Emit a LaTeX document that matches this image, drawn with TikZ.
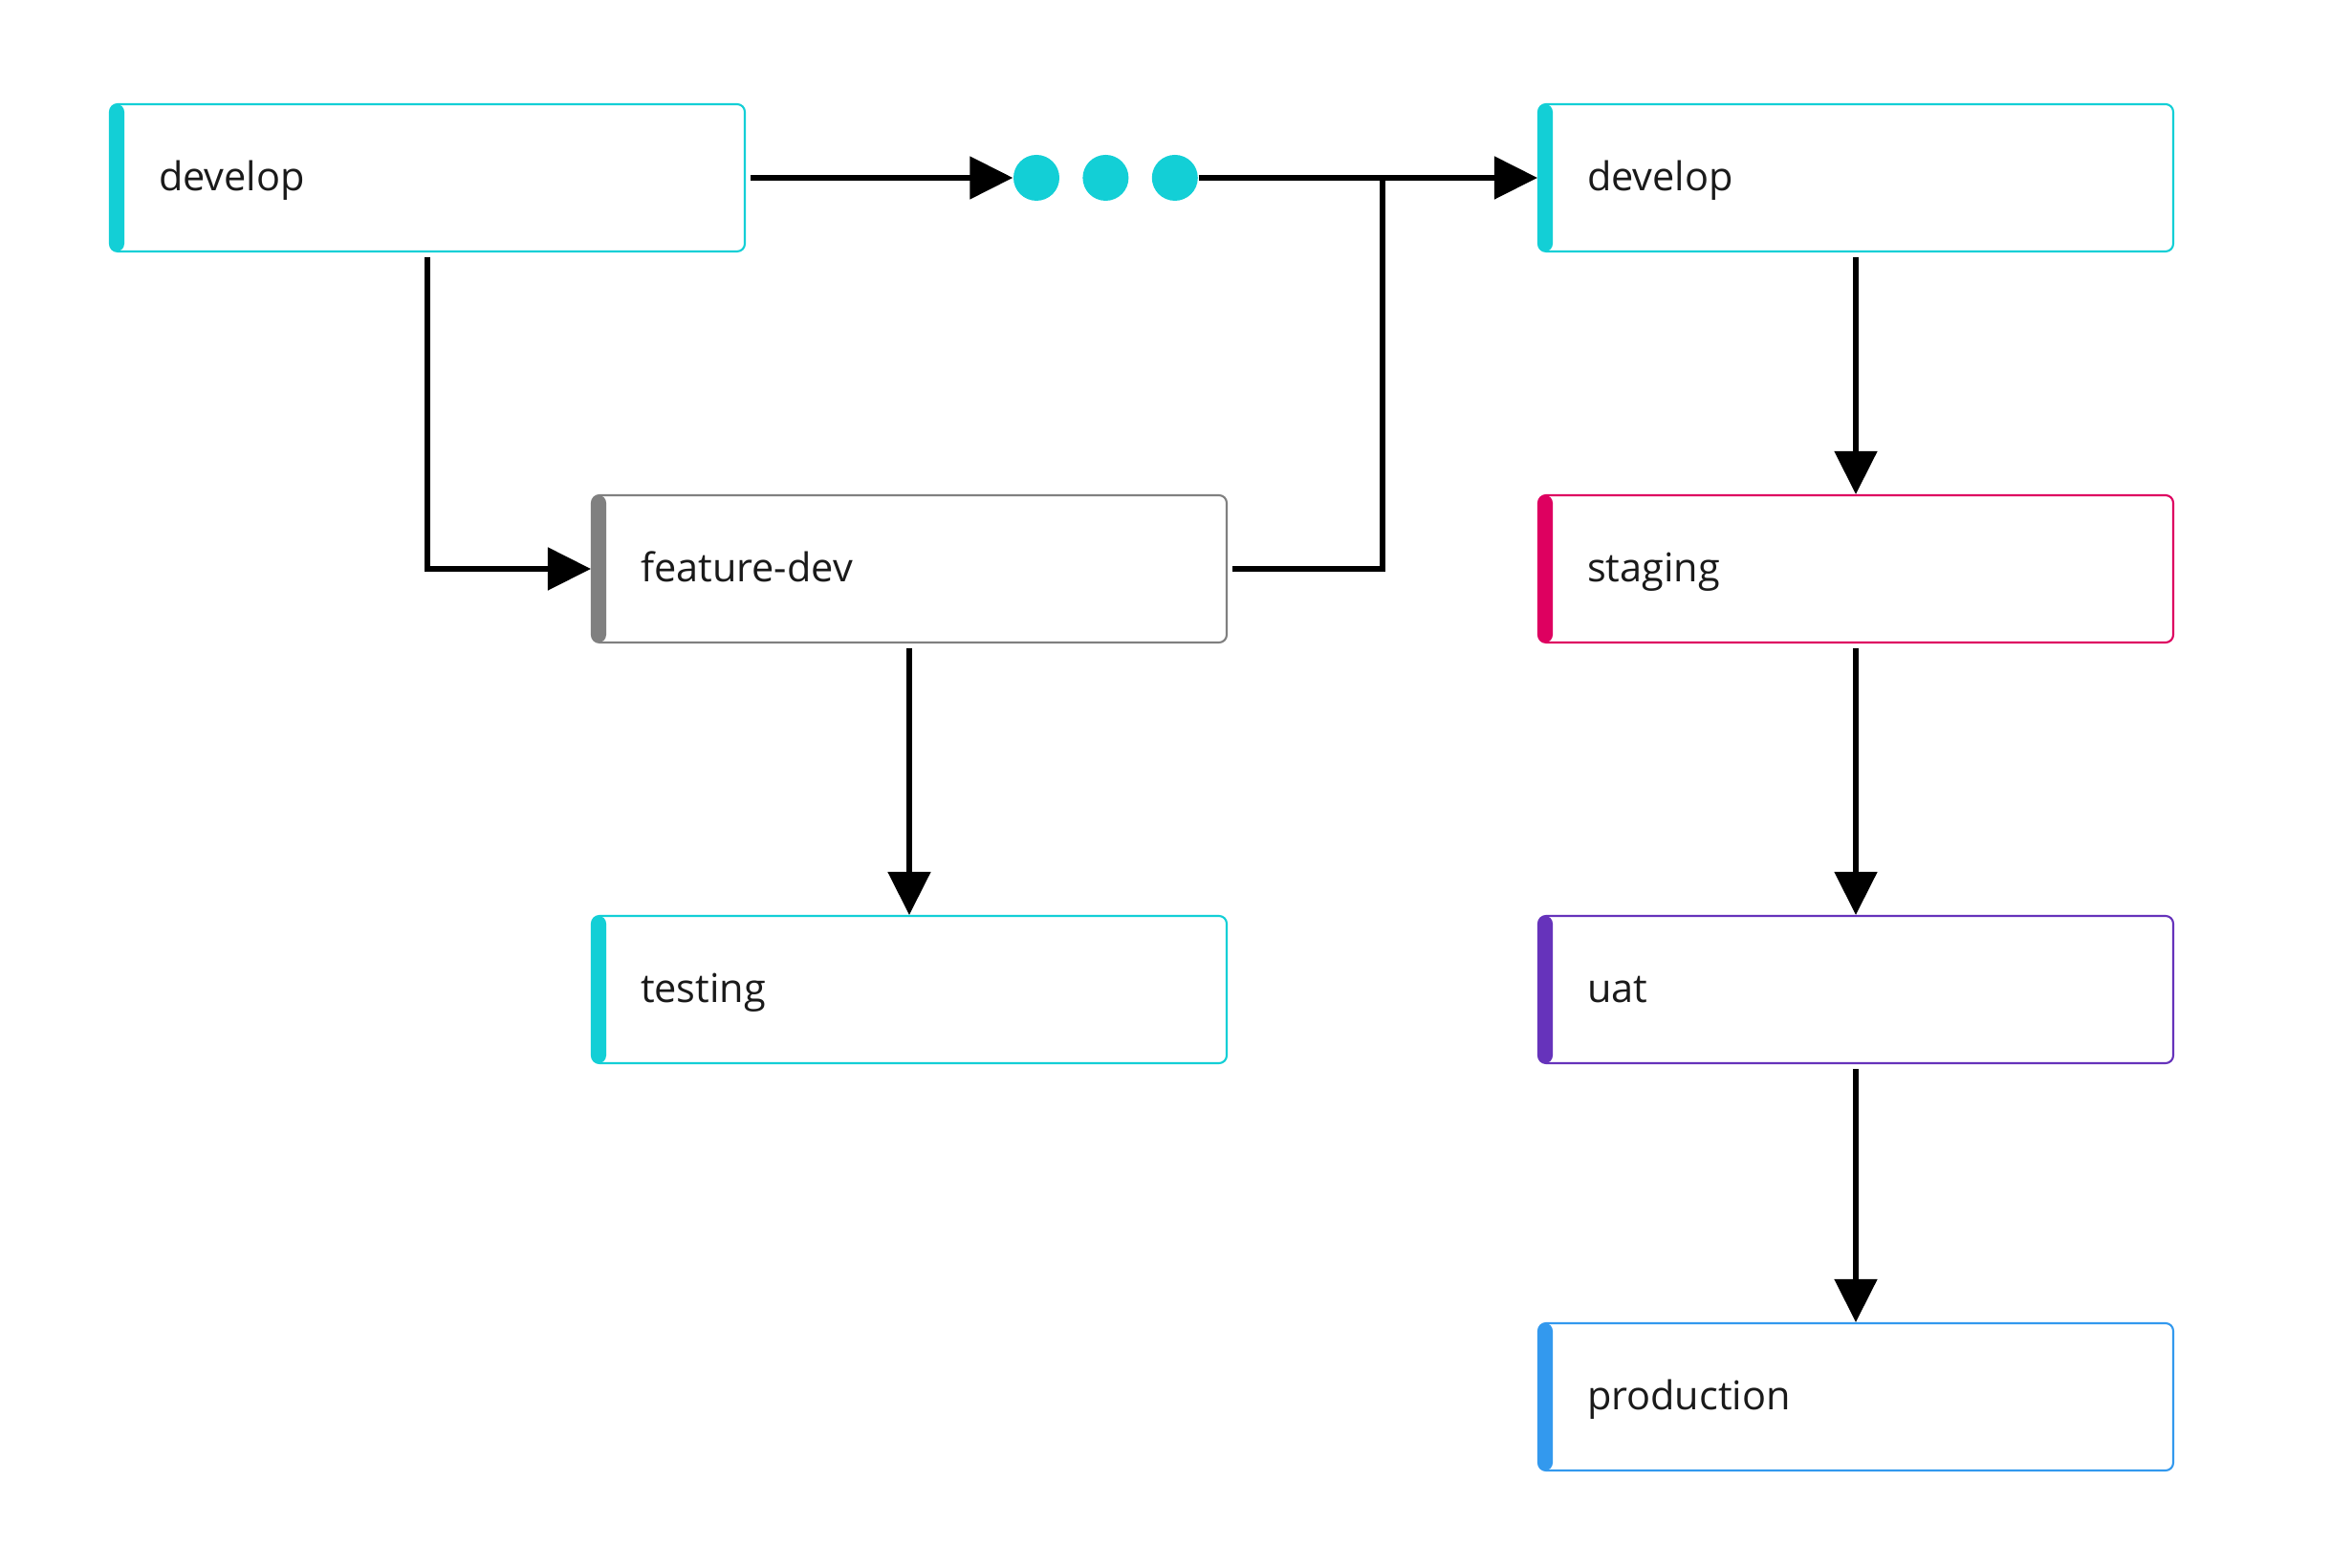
\documentclass[tikz,border=0pt]{standalone}
\usepackage{fontspec}
\setmainfont{Open Sans}
\usepackage{tikz}
\usetikzlibrary{shapes,arrows.meta,positioning}
\usepackage{xcolor}

\definecolor{branchcyan}{HTML}{13CFD6}
\definecolor{branchgray}{HTML}{808080}
\definecolor{branchpink}{HTML}{DE0060}
\definecolor{branchpurple}{HTML}{6633BB}
\definecolor{branchblue}{HTML}{3399EE}
\definecolor{labeltext}{HTML}{1A1A1A}

\tikzset{
    branch/.style={draw=#1, fill=white, rounded corners=0.08cm, line width=0.6pt,
        minimum height=1.54cm, inner xsep=0.51cm, text width=5.62cm, align=left,
        text height=0.97em, text depth=0.18em, text=labeltext,
        font=\fontsize{11.8pt}{14pt}\selectfont,
        path picture={\fill[#1] (path picture bounding box.north west) rectangle
            ([xshift=0.15cm]path picture bounding box.south west);}},
    dot/.style={circle, fill=branchcyan, minimum size=0.48cm, inner sep=0pt},
    flow/.style={line width=1.45pt, -{Triangle[length=0.45cm, width=0.44cm]}}
}

\begin{document}
\begin{tikzpicture}
    \useasboundingbox (0,0) rectangle (24.38,16.40);

    \node[branch=branchcyan] (develop) at (4.47,14.54) {develop};
    \node[branch=branchcyan] (develop2) at (19.41,14.54) {develop};
    \node[branch=branchgray] (featuredev) at (9.51,10.45) {feature-dev};
    \node[branch=branchcyan] (testing) at (9.51,6.05) {testing};
    \node[branch=branchpink] (staging) at (19.41,10.45) {staging};
    \node[branch=branchpurple] (uat) at (19.41,6.05) {uat};
    \node[branch=branchblue] (production) at (19.41,1.79) {production};

    \node[dot] (dot1) at (10.84,14.54) {};
    \node[dot, right=0.23cm of dot1] (dot2) {};
    \node[dot, right=0.23cm of dot2] (dot3) {};

    \coordinate (merge) at (14.46,14.54);

    \draw[flow, shorten <=1.5pt] (develop) -- (dot1);
    \draw[flow] (dot3) -- (develop2);
    \draw[flow, shorten <=1.5pt] (develop) |- (featuredev);
    \draw[line width=1.45pt, shorten <=1.5pt] (featuredev) -| (merge);
    \draw[flow, shorten <=1.5pt] (featuredev) -- (testing);

    \draw[flow, shorten <=1.5pt] (develop2) -- (staging);
    \draw[flow, shorten <=1.5pt] (staging) -- (uat);
    \draw[flow, shorten <=1.5pt] (uat) -- (production);

\end{tikzpicture}
\end{document}
